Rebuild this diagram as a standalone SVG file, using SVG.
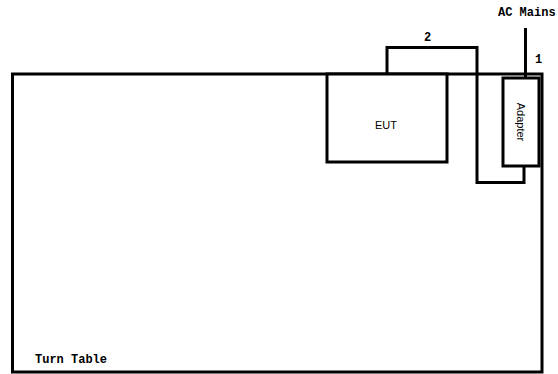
<svg xmlns="http://www.w3.org/2000/svg" width="558" height="374" viewBox="0 0 558 374">
<style>
.box{fill:#fff;stroke:#000;stroke-width:3}
.wire{fill:none;stroke:#000;stroke-width:3}
.lbl{font-family:"Liberation Mono",monospace;font-weight:bold;font-size:12px;fill:#000}
.name{font-family:"Liberation Sans",Arial,sans-serif;font-size:11px;fill:#000}
</style>
<rect width="558" height="374" fill="#fff"/>
<g id="turntable">
<rect class="box" x="12.5" y="74" width="529.5" height="298"/>
<text class="lbl" x="35" y="363">Turn Table</text>
</g>
<g id="eut">
<rect class="box" x="327" y="74" width="120" height="88"/>
<text class="name" x="386" y="129" text-anchor="middle">EUT</text>
</g>
<g id="adapter">
<rect class="box" x="503" y="78" width="36" height="88"/>
<text class="name" transform="translate(517,122) rotate(90)" text-anchor="middle">Adapter</text>
</g>
<g id="connectors">
<polyline class="wire" points="387,74 387,47.5 477,47.5 477,182.5 524,182.5 524,166"/>
<line class="wire" x1="525.5" y1="28" x2="525.5" y2="78"/>
</g>
<g id="labels">
<text class="lbl" x="498" y="16">AC Mains</text>
<text class="lbl" x="424" y="41">2</text>
<text class="lbl" x="535" y="63">1</text>
</g>
</svg>
